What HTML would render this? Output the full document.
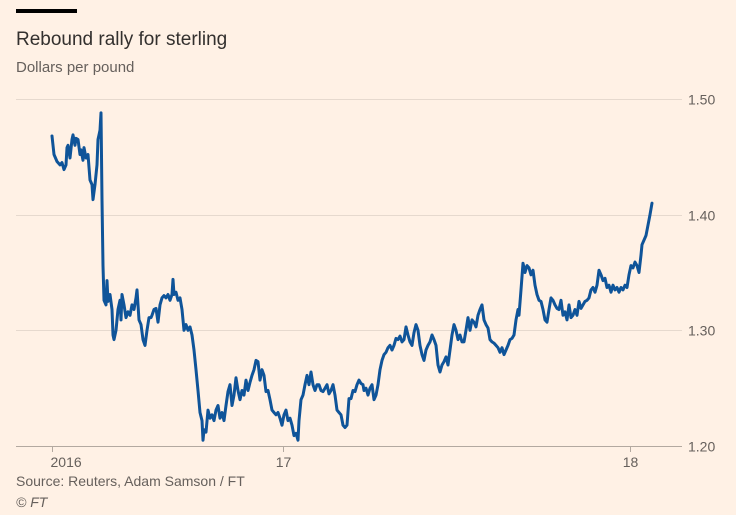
<!DOCTYPE html>
<html><head><meta charset="utf-8"><style>
html,body{margin:0;padding:0;background:#fff1e5;}
body{width:736px;height:515px;overflow:hidden;position:relative;font-family:"Liberation Sans",sans-serif;}
#bar{position:absolute;left:16px;top:9px;width:61px;height:4px;background:#000;}
#title{position:absolute;left:16px;top:29px;font-size:19px;color:#33302e;}
#sub{position:absolute;left:16px;top:59px;font-size:15px;color:#66605c;}
#src{position:absolute;left:16px;top:473px;font-size:14px;color:#66605c;}
#cr{position:absolute;left:16px;top:494px;font-size:14px;color:#66605c;font-style:italic;}
svg{position:absolute;left:0;top:0;}
</style></head><body>
<div id="bar"></div>
<div id="title">Rebound rally for sterling</div>
<div id="sub">Dollars per pound</div>
<svg id="chart" width="736" height="515"></svg>
<div id="src">Source: Reuters, Adam Samson / FT</div>
<div id="cr">© FT</div>
<script>
const days=[0,2,5,8,10,12,14,15,16,18,20,21,23,24,26,28,29,31,32,34,36,38,40,41,43,45,46,47,48,49,50,51,52,54,55,56,58,60,61,62,64,66,68,69,70,72,74,76,78,80,82,84,85,87,89,91,93,95,97,99,100,102,104,106,108,110,112,114,116,118,120,121,122,124,126,128,130,132,134,136,138,140,142,144,146,148,150,151,152,154,156,158,160,162,164,166,168,170,172,174,176,178,180,182,184,186,188,190,192,194,196,198,200,202,204,206,208,210,212,214,216,218,220,222,224,226,228,230,232,234,236,238,240,242,244,246,247,249,251,253,255,257,259,261,263,265,267,269,271,273,275,277,279,281,283,285,287,289,291,293,295,297,299,301,303,305,307,309,311,312,314,316,318,320,322,324,326,328,330,332,334,336,338,340,342,344,346,348,350,352,354,356,358,360,362,364,366,368,370,372,374,376,378,380,382,384,386,388,390,392,394,396,398,400,402,404,406,408,410,412,414,416,418,420,422,424,426,428,430,432,434,436,438,440,442,444,446,448,450,452,454,456,458,460,462,464,466,467,469,471,473,475,477,479,481,483,485,487,489,491,493,495,497,499,501,503,505,507,509,511,513,515,517,519,521,523,525,527,529,531,533,535,537,539,541,543,545,547,549,551,553,555,557,559,561,563,565,567,569,571,573,575,577,579,581,583,585,587,589,590,592,594,596,598,600];
const rates=[1.468,1.452,1.446,1.443,1.445,1.439,1.443,1.458,1.460,1.449,1.465,1.469,1.460,1.466,1.465,1.452,1.456,1.447,1.458,1.449,1.452,1.430,1.426,1.413,1.426,1.443,1.465,1.469,1.473,1.488,1.413,1.356,1.326,1.322,1.343,1.325,1.331,1.318,1.296,1.292,1.300,1.318,1.326,1.309,1.331,1.322,1.311,1.316,1.313,1.322,1.318,1.328,1.335,1.309,1.305,1.292,1.287,1.300,1.311,1.311,1.313,1.318,1.319,1.307,1.322,1.328,1.330,1.328,1.331,1.326,1.331,1.344,1.331,1.333,1.326,1.328,1.318,1.300,1.305,1.300,1.303,1.296,1.283,1.266,1.248,1.229,1.222,1.205,1.214,1.212,1.231,1.224,1.227,1.222,1.231,1.235,1.224,1.229,1.222,1.235,1.247,1.253,1.235,1.244,1.259,1.248,1.240,1.248,1.244,1.257,1.248,1.255,1.261,1.266,1.274,1.273,1.257,1.266,1.261,1.247,1.248,1.240,1.231,1.229,1.227,1.229,1.224,1.218,1.227,1.231,1.222,1.224,1.218,1.209,1.211,1.205,1.222,1.240,1.244,1.253,1.261,1.253,1.264,1.253,1.248,1.253,1.253,1.248,1.247,1.250,1.253,1.245,1.248,1.253,1.244,1.231,1.229,1.227,1.218,1.216,1.218,1.241,1.241,1.248,1.247,1.253,1.257,1.254,1.253,1.248,1.250,1.244,1.250,1.253,1.240,1.244,1.253,1.266,1.274,1.279,1.281,1.285,1.287,1.283,1.287,1.293,1.292,1.295,1.290,1.292,1.303,1.296,1.290,1.287,1.298,1.305,1.300,1.287,1.279,1.274,1.283,1.287,1.290,1.296,1.292,1.287,1.270,1.264,1.270,1.273,1.277,1.270,1.283,1.296,1.305,1.300,1.292,1.296,1.290,1.290,1.300,1.311,1.300,1.309,1.307,1.303,1.313,1.318,1.322,1.309,1.305,1.302,1.292,1.290,1.289,1.287,1.285,1.281,1.285,1.279,1.283,1.287,1.292,1.293,1.296,1.309,1.318,1.313,1.335,1.358,1.350,1.356,1.354,1.348,1.352,1.339,1.331,1.326,1.325,1.318,1.309,1.307,1.318,1.328,1.326,1.322,1.319,1.318,1.326,1.313,1.316,1.309,1.322,1.311,1.313,1.318,1.313,1.325,1.319,1.322,1.325,1.326,1.328,1.335,1.337,1.333,1.339,1.352,1.348,1.343,1.345,1.337,1.339,1.333,1.339,1.335,1.337,1.333,1.337,1.335,1.339,1.337,1.348,1.356,1.354,1.359,1.356,1.350,1.365,1.374,1.378,1.382,1.391,1.400,1.410];
const yTicks=[1.20,1.30,1.40,1.50];
const yTickLabels=["1.20","1.30","1.40","1.50"];
const xTicks=[0,231,578];
const xTickLabels=["2016","17","18"];

const NS="http://www.w3.org/2000/svg";
const svg=document.getElementById('chart');
const X0=52,X1=652,D0=0,D1=600;
const Y0=446,Y1=99,V0=1.20,V1=1.50;
const xs=d=>X0+(d-D0)/(D1-D0)*(X1-X0);
const ys=v=>Y0+(v-V0)/(V1-V0)*(Y1-Y0);
function mk(t,a){const e=document.createElementNS(NS,t);for(const k in a)e.setAttribute(k,a[k]);svg.appendChild(e);return e;}
yTicks.forEach((v,i)=>{
  const y=Math.round(ys(v))+0.5;
  const g=mk('line',{x1:16,x2:682,y1:y,y2:y,stroke:i===0?'#b3a9a0':'#e6d9ce','stroke-width':1});
  
  
  const t=mk('text',{x:688,y:y+5,'font-size':14,fill:'#66605c','font-family':'Liberation Sans, sans-serif'});
  t.textContent=yTickLabels[i];
  
  
});
xTicks.forEach((d,i)=>{
  const x=Math.round(xs(d))+0.5;
  const l=mk('line',{x1:x,x2:x,y1:446,y2:452,stroke:'#b3a9a0','stroke-width':1});
  
  
  const t=mk('text',{x:i===0?x-2:x,y:467,'font-size':14,fill:'#66605c','font-family':'Liberation Sans, sans-serif','text-anchor':i===0?'start':'middle'});
  t.textContent=xTickLabels[i];
  
  
});
const pts=days.map((d,i)=>xs(d).toFixed(1)+','+ys(rates[i]).toFixed(1)).join(' ');
const pl=mk('polyline',{points:pts,fill:'none',stroke:'#0f5499','stroke-width':3,'stroke-linejoin':'round','stroke-linecap':'round'});


</script>
</body></html>
